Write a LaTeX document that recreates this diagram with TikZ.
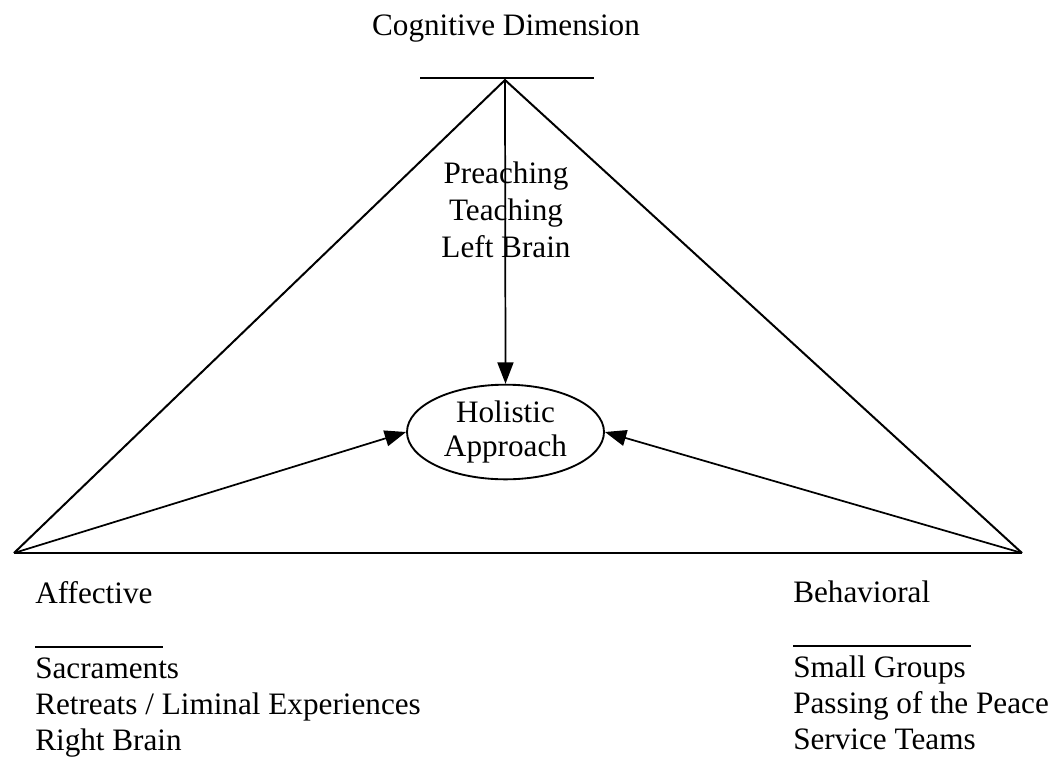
\documentclass[tikz,border=0pt]{standalone}
\usepackage{fontspec}
\setmainfont{Liberation Serif}
\usetikzlibrary{shapes.geometric,arrows.meta}

\tikzset{
    label/.style={font=\fontsize{23.4}{27}\selectfont, inner sep=0pt, align=left},
    edge/.style={line width=1.5pt},
    arr/.style={line width=1.3pt, -{Triangle[length=16pt,width=12pt]}},
    bar/.style={line width=1.5pt}
}

\begin{document}
\begin{tikzpicture}[x=0.75pt,y=-0.75pt]
\useasboundingbox (0,0) rectangle (1062,757);

\coordinate (apex) at (505,80);
\coordinate (lft) at (14,553);
\coordinate (rgt) at (1022,553);

\node[label, anchor=base] (cog) at (506,35) {Cognitive Dimension};
\draw[bar] (420,78) -- (594,78);

\node[label, anchor=base] (pre) at (506,183) {Preaching};
\node[label, anchor=base] (tea) at (506,220) {Teaching};
\node[label, anchor=base] (lb) at (506,257) {Left Brain};

\node[draw, ellipse, line width=1.4pt, minimum width=147.75pt, minimum height=71pt,
      label, align=center] (hol) at (505.5,432)
    {Holistic\\[-1pt]Approach};

\draw[edge] (lft) -- (apex) -- (rgt);
\draw[edge] (lft) -- (rgt);

\draw[arr] (apex) -- (hol.north);
\draw[arr] (lft) -- (hol.west);
\draw[arr] (rgt) -- (hol.east);

\node[label, anchor=base west] (aff) at (35,603) {Affective};
\draw[bar] (35,647) -- (163,647);
\node[label, anchor=base west] (sac) at (35,678) {Sacraments};
\node[label, anchor=base west] (ret) at (35,714) {Retreats / Liminal Experiences};
\node[label, anchor=base west] (rb) at (35,750) {Right Brain};

\node[label, anchor=base west] (beh) at (793,602) {Behavioral};
\draw[bar] (793,646) -- (971,646);
\node[label, anchor=base west] (sg) at (793,677) {Small Groups};
\node[label, anchor=base west] (pp) at (793,713) {Passing of the Peace};
\node[label, anchor=base west] (st) at (793,749) {Service Teams};

\end{tikzpicture}
\end{document}
